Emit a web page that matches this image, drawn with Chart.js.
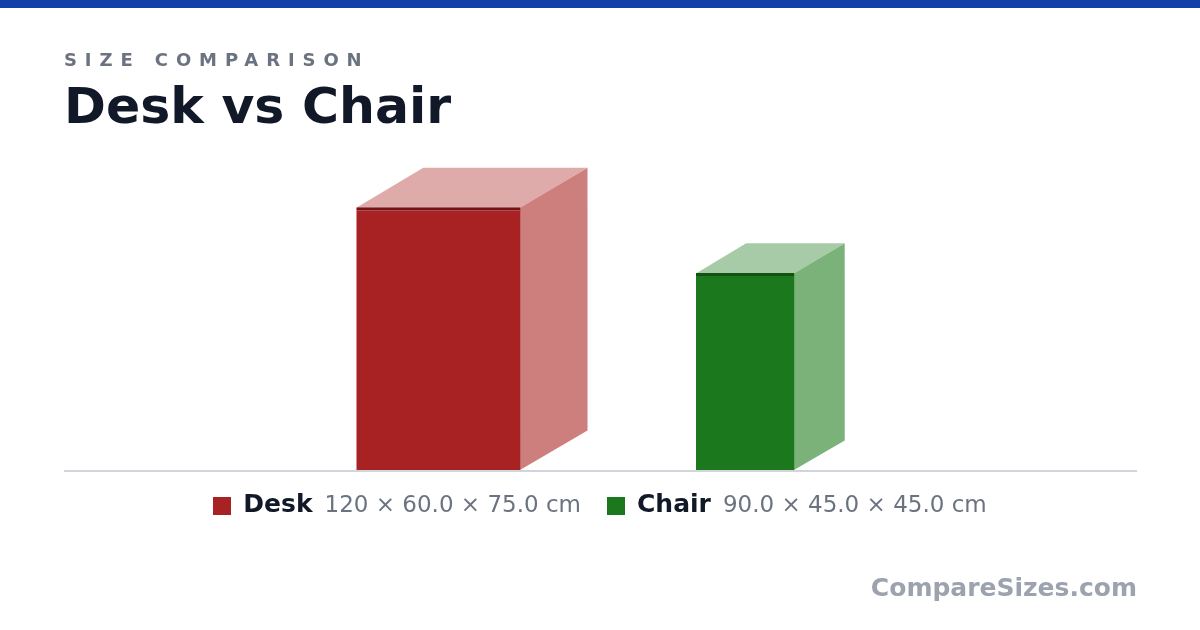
<!DOCTYPE html>
<html>
<head>
<meta charset="utf-8">
<script src="https://cdn.jsdelivr.net/npm/chart.js@4.4.0/dist/chart.umd.min.js"></script>
<style>
  html, body { margin: 0; padding: 0; background: #fff; }
  body { width: 1200px; height: 630px; position: relative; overflow: hidden; font-family: "DejaVu Sans", sans-serif; }
  .topbar { position: absolute; left: 0; top: 0; width: 1200px; height: 8px; background: #1240a8; }
  #chart { position: absolute; left: 0; top: 0; }
  .kicker { position: absolute; left: 64px; top: 50.8px; font-size: 18px; line-height: 1; font-weight: bold; letter-spacing: 7.9px; color: #6b7280; }
  .title { position: absolute; left: 64px; top: 80.6px; font-size: 50.5px; line-height: 1; font-weight: bold; color: #111827; }
  .legend { position: absolute; left: 0; top: 491px; width: 1200px; display: flex; justify-content: center; align-items: baseline; line-height: 1; }
  .legend .item { display: inline-flex; align-items: baseline; margin: 0 13px; }
  .legend .swatch { display: inline-block; width: 18px; height: 18px; margin-right: 12px; position: relative; top: 3px; }
  .legend b { font-size: 25px; color: #111827; margin-right: 12px; }
  .legend .dims { font-size: 23px; color: #6b7280; }
  .brand { position: absolute; right: 63px; top: 575px; font-size: 25px; line-height: 1; font-weight: bold; color: #9ca3af; }
</style>
</head>
<body>
<div class="topbar"></div>
<canvas id="chart" width="1200" height="630"></canvas>
<div class="kicker">SIZE COMPARISON</div>
<div class="title">Desk vs Chair</div>
<div class="legend" id="legend"></div>
<div class="brand">CompareSizes.com</div>
<script>
const items = ['Desk', 'Chair'];
const lengthCm = [120, 90];   // drawn as the tall edge of the front face
const depthCm = [60, 45];     // drawn receding up and to the right
const heightCm = [75, 45];    // drawn as the width of the front face
const faceColors = ['#a82224', '#1c781c'];
const edgeColors = ['#711616', '#145214'];
const sideColors = ['#cd7f7e', '#7ab27a'];
const topColors = ['#dfabaa', '#a7cba7'];

const X_MAX = 490, Y_MAX = 150, GAP = 49.5;
const DEPTH_X = 0.51, DEPTH_Y = 0.30;

// put the boxes next to each other and centre the group
const spans = heightCm.map((h, i) => h + depthCm[i] * DEPTH_X);
const total = spans.reduce((a, b) => a + b, 0) + GAP * (items.length - 1);
let cursor = (X_MAX - total) / 2;
const centers = spans.map((s, i) => {
  const c = cursor + heightCm[i] / 2;
  cursor += s + GAP;
  return c;
});

const datasets = items.map((name, i) => ({
  label: name,
  data: [{ x: centers[i], y: lengthCm[i] }],
  backgroundColor: faceColors[i],
  borderColor: edgeColors[i],
  borderWidth: { top: 3, right: 0, bottom: 0, left: 0 },
  borderSkipped: false,
  inflateAmount: 0,
  stack: 'boxes',
}));

const box3d = {
  id: 'box3d',
  beforeDatasetsUpdate(chart) {
    const x = chart.scales.x;
    chart.data.datasets.forEach((ds, i) => {
      ds.barThickness = x.getPixelForValue(heightCm[i]) - x.getPixelForValue(0);
    });
  },
  beforeDatasetsDraw(chart) {
    const { ctx, scales: { x, y } } = chart;
    const zeroX = x.getPixelForValue(0), zeroY = y.getPixelForValue(0);
    ctx.save();
    chart.data.datasets.forEach((ds, i) => {
      const bar = chart.getDatasetMeta(i).data[0].getProps(['x', 'y', 'base', 'width'], true);
      const left = bar.x - bar.width / 2, right = bar.x + bar.width / 2;
      const dx = x.getPixelForValue(depthCm[i] * DEPTH_X) - zeroX;
      const dy = zeroY - y.getPixelForValue(depthCm[i] * DEPTH_Y);
      ctx.fillStyle = sideColors[i];
      ctx.beginPath();
      ctx.moveTo(right - 0.5, bar.base);
      ctx.lineTo(right - 0.5, bar.y);
      ctx.lineTo(right + dx, bar.y - dy);
      ctx.lineTo(right + dx, bar.base - dy);
      ctx.closePath();
      ctx.fill();
      ctx.fillStyle = topColors[i];
      ctx.beginPath();
      ctx.moveTo(left, bar.y + 0.5);
      ctx.lineTo(right, bar.y + 0.5);
      ctx.lineTo(right + dx, bar.y - dy);
      ctx.lineTo(left + dx, bar.y - dy);
      ctx.closePath();
      ctx.fill();
    });
    ctx.restore();
  },
  afterDatasetsDraw(chart) {
    const { ctx, chartArea, scales: { y } } = chart;
    ctx.save();
    ctx.fillStyle = '#d1d5db';
    ctx.fillRect(chartArea.left, y.getPixelForValue(0), chartArea.right - chartArea.left, 2);
    ctx.restore();
  }
};

new Chart(document.getElementById('chart'), {
  type: 'bar',
  data: { datasets },
  options: {
    responsive: false,
    animation: false,
    layout: { padding: { left: 64, right: 63, top: 141.5, bottom: 160 } },
    plugins: { legend: { display: false }, tooltip: { enabled: false } },
    scales: {
      x: { type: 'linear', min: 0, max: X_MAX, offset: false, stacked: true, display: false },
      y: { min: 0, max: Y_MAX, stacked: false, display: false }
    }
  },
  plugins: [box3d]
});

const legend = document.getElementById('legend');
items.forEach((name, i) => {
  const dims = [lengthCm[i], depthCm[i], heightCm[i]].map(v => v.toPrecision(3)).join(' × ') + ' cm';
  legend.insertAdjacentHTML('beforeend',
    `<span class="item"><span class="swatch" style="background:${faceColors[i]}"></span><b>${name}</b><span class="dims">${dims}</span></span>`);
});
</script>
</body>
</html>
